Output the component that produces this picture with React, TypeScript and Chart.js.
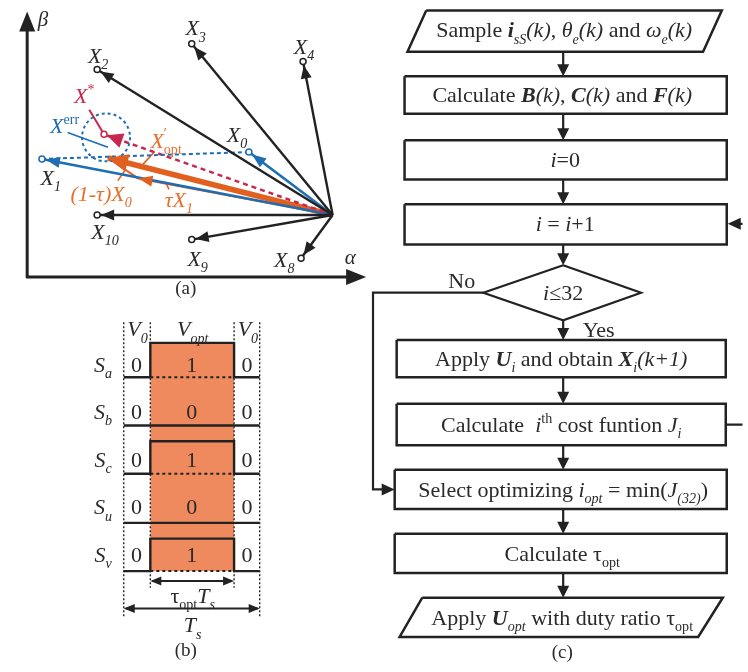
import React, { useEffect, useRef } from 'react';
import { Chart, registerables } from 'chart.js';
Chart.register(...registerables);

const FONT = '"Liberation Serif", "Times New Roman", serif';
const INK = '#222222';
const TXT = '#2a2a2a';
const BLUE = '#1f6db3';
const RED = '#c8284e';
const ORANGE = '#e2601f';
const ORANGE_TXT = '#e8702d';
const FILL = '#ee8a5e';

// ---------- panel (a) data (page coordinates) ----------
const origin = [332, 213];
const blackNames = ['2', '3', '4', '10', '9', '8'];
const blackTipX = [93, 189, 302, 93, 189, 300];
const blackTipY = [65, 39, 57, 213, 238, 257];
const blackLabelX = [94, 193, 303, 101, 195, 283];
const blackLabelY = [51, 23, 42, 230, 257, 258];
const blueNames = ['0', '1'];
const blueTipX = [247, 37];
const blueTipY = [149, 156];
const blueLabelX = [235, 46];
const blueLabelY = [131, 175];
const refPoint = [100, 131];
const optPoint = [104, 155];
const tauX1Point = [135, 176];
const errRadius = 24;

// ---------- panel (b) data ----------
const gridX = [120, 147, 232, 258];
const rowNames = ['a', 'b', 'c', 'u', 'v'];
const rowY = [365, 413, 462, 510, 558];
const rowCenter = ['1', '0', '1', '0', '1'];
const highY = [343, 427, 443, 526, 542];
const lowY = [378, 427, 476, 526, 575];

// ---------- panel (c) data ----------
const boxTop = [72, 137, 202, 340, 405, 472, 537];
const boxBottom = [110, 177, 243, 378, 447, 512, 577];
const boxLeft = [405, 405, 405, 397, 397, 395, 395];
const boxRight = [732, 732, 732, 731, 731, 732, 732];
const flowX = 566;
const arrowFromY = [47, 110, 177, 243, 320, 378, 447, 512, 577];
const arrowToY = [72, 137, 202, 264, 340, 405, 472, 537, 602];
const diamondX = [566, 645, 566, 485];
const diamondY = [264, 292, 320, 292];
const para1X = [427, 727, 708, 408];
const para1Y = [5, 5, 47, 47];
const para2X = [423, 728, 703, 400];
const para2Y = [602, 602, 642, 642];

type Run = [string, string?, number?];

const seg = (pts: number[][], color: string, width: number, dash: number[] = [], order = 1) => ({
  type: 'scatter',
  data: pts.map(([x, y]) => ({ x, y })),
  showLine: true,
  borderColor: color,
  borderWidth: width,
  borderDash: dash,
  pointRadius: 0,
  fill: false,
  tension: 0,
  order,
});

function drawRich(ctx: CanvasRenderingContext2D, runs: Run[], cx: number, cy: number, size: number, color: string) {
  const parts = runs.map(([t, st = '', pos = 0]) => {
    const s = pos ? size * 0.64 : size;
    const font = `${st.includes('i') ? 'italic ' : ''}${st.includes('b') ? 'bold ' : ''}${s}px ${FONT}`;
    ctx.font = font;
    const w = ctx.measureText(t).width;
    const dy = pos === -1 ? size * 0.28 : pos ? -size * 0.42 : 0;
    return { t, font, w: pos === 2 ? 0 : w, dy };
  });
  const total = parts.reduce((a, p) => a + p.w, 0);
  let x = cx - total / 2;
  const base = cy + size * 0.33;
  ctx.fillStyle = color;
  ctx.textAlign = 'left';
  ctx.textBaseline = 'alphabetic';
  for (const p of parts) {
    ctx.font = p.font;
    ctx.fillText(p.t, x, base + p.dy);
    x += p.w;
  }
}

function head(ctx: CanvasRenderingContext2D, tx: number, ty: number, fx: number, fy: number, len: number, half: number, color: string) {
  const dx = tx - fx, dy = ty - fy;
  const d = Math.hypot(dx, dy) || 1;
  const ux = dx / d, uy = dy / d;
  const bx = tx - ux * len, by = ty - uy * len;
  ctx.fillStyle = color;
  ctx.beginPath();
  ctx.moveTo(tx, ty);
  ctx.lineTo(bx - uy * half, by + ux * half);
  ctx.lineTo(bx + uy * half, by - ux * half);
  ctx.closePath();
  ctx.fill();
}

function buildDatasets() {
  const ds: any[] = [];
  // axes (a)
  ds.push(seg([[22, 277], [22, 22]], INK, 3));
  ds.push(seg([[21, 276], [352, 276]], INK, 3));
  // black vectors
  blackTipX.forEach((x, i) => ds.push(seg([origin, [x, blackTipY[i]]], INK, 2.4)));
  // blue dashed X1-X0
  ds.push(seg([[blueTipX[1], blueTipY[1]], [blueTipX[0], blueTipY[0]]], BLUE, 2, [4, 3]));
  // red dashed origin - X*
  ds.push(seg([origin, refPoint], RED, 2.5, [5, 4]));
  // blue vectors
  blueTipX.forEach((x, i) => ds.push(seg([origin, [x, blueTipY[i]]], BLUE, 2.6)));
  // orange
  ds.push(seg([origin, tauX1Point], ORANGE, 2));
  ds.push(seg([tauX1Point, optPoint], ORANGE, 2));
  ds.push(seg([origin, optPoint], ORANGE, 5.5));
  // leaders
  ds.push(seg([[85, 106], refPoint], RED, 2));
  ds.push(seg([[63, 129], [104, 144]], BLUE, 1.6));
  ds.push(seg([[151, 149], [139, 162]], ORANGE, 1.6));
  ds.push(seg([[114, 178], [121, 168]], ORANGE, 1.6));
  ds.push(seg([[166, 187], [162, 179]], ORANGE, 1.6));
  // tip circles
  ds.push({
    type: 'scatter',
    data: [...blackTipX.map((x, i) => ({ x, y: blackTipY[i] }))],
    pointRadius: 3, pointBackgroundColor: '#fff', pointBorderColor: INK, pointBorderWidth: 1.5, order: 0,
  });
  ds.push({
    type: 'scatter',
    data: [...blueTipX.map((x, i) => ({ x, y: blueTipY[i] }))],
    pointRadius: 3, pointBackgroundColor: '#fff', pointBorderColor: BLUE, pointBorderWidth: 1.5, order: 0,
  });
  ds.push({
    type: 'scatter', data: [{ x: refPoint[0], y: refPoint[1] }],
    pointRadius: 3, pointBackgroundColor: '#fff', pointBorderColor: RED, pointBorderWidth: 1.5, order: 0,
  });

  // ---------- panel (b) ----------
  ds.push({
    ...seg([[gridX[1], highY[0]], [gridX[2], highY[0]]], FILL, 0, [], 100),
    fill: { value: lowY[4] },
    backgroundColor: FILL,
  });
  [0, 3].forEach((k) => ds.push(seg([[gridX[k], 322], [gridX[k], 623]], INK, 1.4, [2, 2])));
  [1, 2].forEach((k) => ds.push(seg([[gridX[k], 322], [gridX[k], 592]], INK, 1.4, [2, 2])));
  rowNames.forEach((_, r) => {
    if (rowCenter[r] === '1') {
      ds.push(seg([[gridX[0], lowY[r]], [gridX[1], lowY[r]], [gridX[1], highY[r]], [gridX[2], highY[r]], [gridX[2], lowY[r]], [gridX[3], lowY[r]]], INK, 2.4));
      ds.push(seg([[gridX[1], lowY[r]], [gridX[2], lowY[r]]], INK, 2, [3, 3]));
    } else {
      ds.push(seg([[gridX[0], lowY[r]], [gridX[3], lowY[r]]], INK, 2.4));
    }
  });
  ds.push(seg([[gridX[1] + 2, 585], [gridX[2] - 2, 585]], INK, 2));
  ds.push(seg([[gridX[0] + 2, 613], [gridX[3] - 2, 613]], INK, 2));

  // ---------- panel (c) ----------
  ds.push(seg([...para1X.map((x, i) => [x, para1Y[i]]), [para1X[0], para1Y[0]]], INK, 2.5));
  ds.push(seg([...para2X.map((x, i) => [x, para2Y[i]]), [para2X[0], para2Y[0]]], INK, 2.5));
  boxTop.forEach((t, i) => {
    const b = boxBottom[i], l = boxLeft[i], r = boxRight[i];
    ds.push(seg([[l, t], [r, t], [r, b], [l, b], [l, t]], INK, 2.5));
  });
  ds.push(seg([...diamondX.map((x, i) => [x, diamondY[i]]), [diamondX[0], diamondY[0]]], INK, 2.2));
  arrowFromY.forEach((y, i) => ds.push(seg([[flowX, y], [flowX, arrowToY[i] - 4]], INK, 2.2)));
  ds.push(seg([[diamondX[3], diamondY[3]], [373, diamondY[3]], [373, 492], [388, 492]], INK, 2.2));
  ds.push(seg([[boxRight[4], 426], [760, 426], [760, 222], [740, 222]], INK, 2.2));
  return ds;
}

const overlay = {
  id: 'overlay',
  beforeDraw(chart: any) {
    const c = chart.ctx;
    c.save();
    c.fillStyle = '#fff';
    c.fillRect(0, 0, chart.width, chart.height);
    c.restore();
  },
  afterDatasetsDraw(chart: any) {
    const ctx: CanvasRenderingContext2D = chart.ctx;
    const xs = chart.scales.x, ys = chart.scales.y;
    const px = (x: number) => xs.getPixelForValue(x);
    const py = (y: number) => ys.getPixelForValue(y);
    ctx.save();
    const [ox, oy] = [px(origin[0]), py(origin[1])];
    const towards = (x: number, y: number, off: number) => {
      const dx = x - ox, dy = y - oy, d = Math.hypot(dx, dy);
      return [x - (dx / d) * off, y - (dy / d) * off];
    };
    // dashed circle
    ctx.strokeStyle = BLUE;
    ctx.lineWidth = 2;
    ctx.setLineDash([3, 3]);
    ctx.beginPath();
    ctx.arc(px(refPoint[0]) + 2, py(refPoint[1]) + 3, errRadius, 0, Math.PI * 2);
    ctx.stroke();
    ctx.setLineDash([]);
    // axis heads
    head(ctx, px(22), py(6), px(22), py(50), 20, 8, INK);
    head(ctx, px(366), py(276), px(300), py(276), 20, 8, INK);
    // vector heads
    blackTipX.forEach((x, i) => {
      const [tx, ty] = towards(px(x), py(blackTipY[i]), 4);
      head(ctx, tx, ty, ox, oy, 13, 5.5, INK);
    });
    blueTipX.forEach((x, i) => {
      const [tx, ty] = towards(px(x), py(blueTipY[i]), 4);
      head(ctx, tx, ty, ox, oy, 14, 5.5, BLUE);
    });
    {
      const [tx, ty] = towards(px(refPoint[0]), py(refPoint[1]), 3);
      head(ctx, tx, ty, ox, oy, 16, 7.5, RED);
    }
    head(ctx, px(optPoint[0]), py(optPoint[1]), ox, oy, 20, 9, ORANGE);
    head(ctx, px(tauX1Point[0]), py(tauX1Point[1]), ox, oy, 14, 5.5, ORANGE);
    // (b) double arrows
    head(ctx, px(gridX[1]), py(585), px(gridX[2]), py(585), 11, 4.5, INK);
    head(ctx, px(gridX[2]), py(585), px(gridX[1]), py(585), 11, 4.5, INK);
    head(ctx, px(gridX[0]), py(613), px(gridX[3]), py(613), 11, 4.5, INK);
    head(ctx, px(gridX[3]), py(613), px(gridX[0]), py(613), 11, 4.5, INK);
    // (c) arrows
    arrowToY.forEach((y) => head(ctx, px(flowX), py(y), px(flowX), py(y - 30), 12, 6, INK));
    head(ctx, px(boxLeft[5]), py(492), px(360), py(492), 13, 6, INK);
    head(ctx, px(boxRight[2] + 1), py(222), px(760), py(222), 13, 6, INK);

    // ---------- texts ----------
    const S = 22;
    const T = (runs: Run[], x: number, y: number, size = S, color = TXT) => drawRich(ctx, runs, px(x), py(y), size, color);
    // (a)
    T([['β', 'i']], 38, 14, 21);
    T([['α', 'i']], 350, 256, 21);
    T([['(a)']], 183, 287, 19);
    blackNames.forEach((n, i) => T([['X', 'i'], [n, 'i', -1]], blackLabelX[i], blackLabelY[i], S));
    blueNames.forEach((n, i) => T([['X', 'i'], [n, 'i', -1]], blueLabelX[i], blueLabelY[i], S));
    T([['X', 'i'], ['*', '', 1]], 80, 92, S, RED);
    T([['X', 'i'], ['err', '', 1]], 60, 122, S, BLUE);
    T([['X', 'i'], ['′', '', 2], ['opt', '', -1]], 163, 137, S, ORANGE_TXT);
    T([['(1-τ)', 'i'], ['X', 'i'], ['0', 'i', -1]], 97, 191, S, ORANGE_TXT);
    T([['τ', 'i'], ['X', 'i'], ['1', 'i', -1]], 176, 197, S, ORANGE_TXT);
    // (b)
    T([['V', 'i'], ['0', 'i', -1]], 134, 329);
    T([['V', 'i'], ['opt', 'i', -1]], 190, 329);
    T([['V', 'i'], ['0', 'i', -1]], 246, 329);
    rowNames.forEach((n, r) => {
      T([['S', 'i'], [n, 'i', -1]], 99, rowY[r]);
      T([['0']], 133, rowY[r]);
      T([[rowCenter[r]]], 189, rowY[r]);
      T([['0']], 245, rowY[r]);
    });
    T([['τ'], ['opt', '', -1], ['T', 'i'], ['s', 'i', -1]], 190, 600);
    T([['T', 'i'], ['s', 'i', -1]], 190, 630);
    T([['(b)']], 183, 655, 19);
    // (c)
    T([['Sample '], ['i', 'bi'], ['sS', 'i', -1], ['(k)', 'i'], [', '], ['θ', 'i'], ['e', 'i', -1], ['(k)', 'i'], [' and '], ['ω', 'i'], ['e', 'i', -1], ['(k)', 'i']], 567, 25);
    T([['Calculate '], ['B', 'bi'], ['(k)', 'i'], [', '], ['C', 'bi'], ['(k)', 'i'], [' and '], ['F', 'bi'], ['(k)', 'i']], 565, 91);
    T([['i', 'i'], ['=0']], 568, 157);
    T([['i', 'i'], [' = '], ['i', 'i'], ['+1']], 568, 222);
    T([['i', 'i'], ['≤32']], 566, 292);
    T([['No']], 463, 280);
    T([['Yes']], 602, 330);
    T([['Apply '], ['U', 'bi'], ['i', 'i', -1], [' and obtain '], ['X', 'bi'], ['i', 'i', -1], ['(k+1)', 'i']], 564, 359);
    T([['Calculate  '], ['i', 'i'], ['th', '', 1], [' cost funtion '], ['J', 'i'], ['i', 'i', -1]], 564, 426);
    T([['Select optimizing '], ['i', 'i'], ['opt', 'i', -1], [' = min('], ['J', 'i'], ['(32)', 'i', -1], [')']], 566, 492);
    T([['Calculate '], ['τ'], ['opt', '', -1]], 565, 557);
    T([['Apply '], ['U', 'bi'], ['opt', 'i', -1], [' with duty ratio '], ['τ'], ['opt', '', -1]], 565, 622);
    T([['(c)']], 565, 657, 19);
    ctx.restore();
  },
};

export default function App() {
  const ref = useRef<HTMLCanvasElement>(null);
  useEffect(() => {
    const chart = new Chart(ref.current as HTMLCanvasElement, {
      type: 'scatter',
      data: { datasets: buildDatasets() },
      options: {
        animation: false,
        responsive: false,
        maintainAspectRatio: false,
        events: [],
        layout: { padding: 0 },
        scales: {
          x: { type: 'linear', min: 0, max: 748, display: false },
          y: { type: 'linear', min: 0, max: 672, reverse: true, display: false },
        },
        plugins: { legend: { display: false }, tooltip: { enabled: false } },
      },
      plugins: [overlay],
    } as any);
    return () => chart.destroy();
  }, []);
  return (
    <div style={{ position: 'fixed', left: 0, top: 0, width: 748, height: 672, background: '#fff' }}>
      <canvas ref={ref} width={748} height={672} style={{ width: 748, height: 672, display: 'block' }} />
    </div>
  );
}
